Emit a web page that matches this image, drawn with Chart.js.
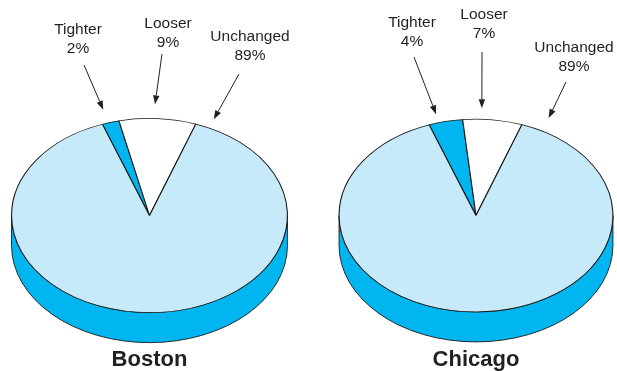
<!DOCTYPE html>
<html lang="en">
  <head>
    <meta charset="UTF-8" />
    <title>Credit Standards: Boston and Chicago</title>
    <script src="https://cdn.jsdelivr.net/npm/chart.js"></script>
    <style>
      body { margin: 0; background: #fff; }
      .wrap { position: relative; width: 617px; height: 371px; }
      .wrap canvas { position: absolute; left: 0; top: 0; }
    </style>
  </head>
  <body>
    <div class="wrap">
      <canvas id="bostonChart" width="617" height="371"></canvas>
      <canvas id="chicagoChart" width="617" height="371"></canvas>
    </div>

    <script>
      const categories = ["Tighter", "Looser", "Unchanged"];
      const bostonShares = [2, 9, 89];
      const chicagoShares = [4, 7, 89];
      const cities = ["Boston", "Chicago"];

      const sliceColors = ["#00b6f0", "#ffffff", "#c6eaf9"];
      const sideColor = "#00b6f0";
      const inkColor = "#231f20";
      const TILT = 0.704; // vertical squash of the pie face
      const DEPTH = 30; // thickness of the pie, px

      // callout placement: text centre, arrow tail, and arrow tip as an angle round the rim
      const bostonCallouts = [
        { tx: 78, ty: 30, ax: 84, ay: 65, tipDeg: -17.1, tipK: 1.14 },
        { tx: 168, ty: 24, ax: 162, ay: 54, tipDeg: 2, tipK: 1.145 },
        { tx: 250, ty: 37, ax: 239, ay: 74, tipDeg: 25.2, tipK: 1.094 },
      ];
      const chicagoCallouts = [
        { tx: 412, ty: 23, ax: 414, ay: 57, tipDeg: -15.5, tipK: 1.09 },
        { tx: 484, ty: 15, ax: 482, ay: 52, tipDeg: 2.2, tipK: 1.114 },
        { tx: 574, ty: 48, ax: 566, ay: 82, tipDeg: 27.7, tipK: 1.141 },
      ];

      function drawSide(ctx, arc) {
        const { x, y, outerRadius: r } = arc;
        const ry = r * TILT;
        // only the front half (canvas angles 0..PI) of the rim is visible
        for (let k = -1; k <= 1; k++) {
          const s = Math.max(arc.startAngle + k * 2 * Math.PI, 0);
          const e = Math.min(arc.endAngle + k * 2 * Math.PI, Math.PI);
          if (e <= s) continue;
          ctx.beginPath();
          ctx.ellipse(x, y, r, ry, 0, s, e);
          ctx.ellipse(x, y + DEPTH, r, ry, 0, e, s, true);
          ctx.closePath();
          ctx.fillStyle = sideColor;
          ctx.fill();
          ctx.strokeStyle = "#1a1a1a";
          ctx.lineWidth = 0.9;
          ctx.stroke();
        }
      }

      function drawArrow(ctx, x1, y1, x2, y2) {
        const ang = Math.atan2(y2 - y1, x2 - x1);
        const len = 9, half = 3.2;
        const bx = x2 - len * Math.cos(ang), by = y2 - len * Math.sin(ang);
        ctx.strokeStyle = inkColor;
        ctx.lineWidth = 1;
        ctx.beginPath();
        ctx.moveTo(x1, y1);
        ctx.lineTo(bx, by);
        ctx.stroke();
        ctx.fillStyle = inkColor;
        ctx.beginPath();
        ctx.moveTo(x2, y2);
        ctx.lineTo(bx + half * Math.sin(ang), by - half * Math.cos(ang));
        ctx.lineTo(bx - half * Math.sin(ang), by + half * Math.cos(ang));
        ctx.closePath();
        ctx.fill();
      }

      const pie3d = {
        id: "pie3d",
        beforeDatasetsDraw(chart) {
          const ctx = chart.ctx;
          const arcs = chart.getDatasetMeta(0).data;
          arcs.forEach((arc) => drawSide(ctx, arc));
          const { x, y } = arcs[0];
          ctx.save();
          ctx.translate(x, y);
          ctx.scale(1, TILT);
          ctx.translate(-x, -y);
        },
        afterDatasetsDraw(chart) {
          chart.ctx.restore();
        },
        afterDraw(chart) {
          const ctx = chart.ctx;
          const opts = chart.options.plugins.pie3d;
          const arcs = chart.getDatasetMeta(0).data;
          const { x, y, outerRadius: r } = arcs[0];
          const values = chart.data.datasets[0].data;

          ctx.save();
          ctx.textAlign = "center";
          ctx.textBaseline = "middle";
          ctx.fillStyle = inkColor;
          ctx.font = "15.5px 'Liberation Sans', Arial, sans-serif";
          opts.callouts.forEach((c, i) => {
            ctx.fillStyle = inkColor;
            ctx.fillText(chart.data.labels[i], c.tx, c.ty);
            ctx.fillText(values[i] + "%", c.tx, c.ty + 18.5);
            const t = (c.tipDeg * Math.PI) / 180;
            const px = x + c.tipK * r * Math.sin(t);
            const py = y - c.tipK * r * TILT * Math.cos(t);
            drawArrow(ctx, c.ax, c.ay, px, py);
          });

          ctx.fillStyle = inkColor;
          ctx.font = "bold 22px 'Liberation Sans', Arial, sans-serif";
          ctx.fillText(opts.title, x, 360);
          ctx.restore();
        },
      };

      function makePie(id, shares, city, callouts, padding) {
        return new Chart(document.getElementById(id), {
          type: "pie",
          data: {
            labels: categories,
            datasets: [
              {
                data: shares,
                backgroundColor: sliceColors,
                borderColor: "#1a1a1a",
                borderWidth: 1.1,
                hoverOffset: 0,
                offset: 0,
                clip: false,
              },
            ],
          },
          options: {
            responsive: false,
            animation: false,
            events: [],
            rotation: -20,
            layout: { padding: padding },
            plugins: {
              legend: { display: false },
              tooltip: { enabled: false },
              pie3d: { title: city, callouts: callouts },
            },
          },
          plugins: [pie3d],
        });
      }

      makePie("bostonChart", bostonShares, cities[0], bostonCallouts,
        { left: 11, right: 329, top: 77, bottom: 17 });
      makePie("chicagoChart", chicagoShares, cities[1], chicagoCallouts,
        { left: 338.5, right: 3.5, top: 78, bottom: 18 });
    </script>
  </body>
</html>
